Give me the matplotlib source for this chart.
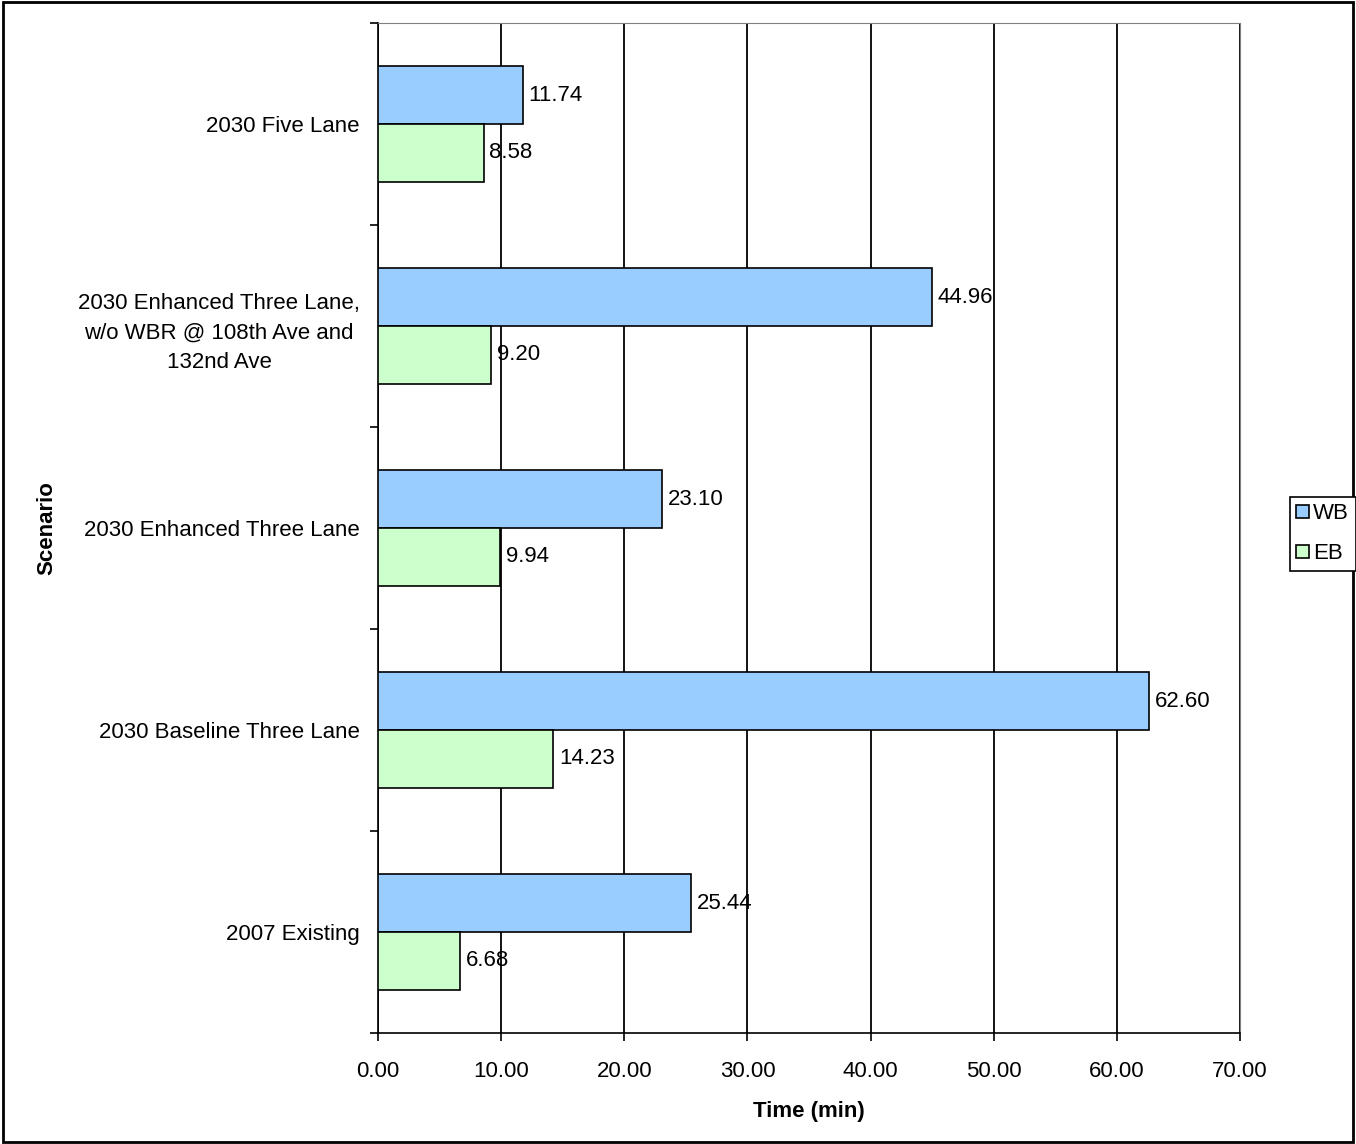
import numpy as np
import matplotlib.pyplot as plt

scenarios = ['2007 Existing', '2030 Baseline Three Lane', '2030 Enhanced Three Lane',
             '2030 Enhanced Three Lane,\nw/o WBR @ 108th Ave and\n132nd Ave', '2030 Five Lane']
wb = [25.44, 62.60, 23.10, 44.96, 11.74]
eb = [6.68, 14.23, 9.94, 9.20, 8.58]
xticks = [0, 10, 20, 30, 40, 50, 60, 70]

plt.rcParams['font.family'] = ['Liberation Sans', 'DejaVu Sans']
fs = 16

fig = plt.figure(figsize=(13.56, 11.44), dpi=100)
ax = fig.add_axes([378 / 1356, 111 / 1144, 862 / 1356, 1010 / 1144])

y = np.arange(len(scenarios))
h = 0.287
ax.barh(y + h / 2, wb, height=h, color='#99ccff', edgecolor='black', linewidth=1.2, label='WB', zorder=3)
ax.barh(y - h / 2, eb, height=h, color='#ccffcc', edgecolor='black', linewidth=1.2, label='EB', zorder=3)

for i in range(len(scenarios)):
    ax.text(wb[i] + 0.45, y[i] + h / 2, '%.2f' % wb[i], va='center', ha='left', fontsize=fs, zorder=4)
    ax.text(eb[i] + 0.45, y[i] - h / 2, '%.2f' % eb[i], va='center', ha='left', fontsize=fs, zorder=4)

ax.set_xlim(0, 70)
ax.set_ylim(-0.5, len(scenarios) - 0.5)
ax.set_xticks(xticks)
ax.set_xticklabels(['%.2f' % v for v in xticks], fontsize=fs)
ax.xaxis.grid(True, color='black', linewidth=1.3, zorder=0)

ax.set_yticks(np.arange(-0.5, len(scenarios), 1.0))
ax.set_yticklabels([])
ax.set_yticks(y, minor=True)
ax.set_yticklabels(scenarios, minor=True, fontsize=fs, ha='right', multialignment='center',
                   linespacing=1.55)
ax.tick_params(axis='y', which='minor', length=0, pad=13)
ax.tick_params(axis='y', which='major', length=6, width=1.2, direction='out')
ax.tick_params(axis='x', length=6, width=1.2, direction='out', pad=14)

ax.spines['left'].set_linewidth(1.2)
ax.spines['bottom'].set_linewidth(1.2)
ax.spines['top'].set_color('#808080')
ax.spines['right'].set_color('#808080')

ax.set_xlabel('Time (min)', fontsize=fs, fontweight='bold', labelpad=14)
ax.set_ylabel('Scenario', fontsize=fs, fontweight='bold', labelpad=0)
ax.yaxis.set_label_coords(-0.372, 0.5)

leg = fig.legend(loc='upper left', bbox_to_anchor=(1283 / 1356, 1 - 490 / 1144), fontsize=fs,
                 frameon=True, fancybox=False, edgecolor='black', framealpha=1,
                 handlelength=0.55, handleheight=0.55, handletextpad=0.2, borderpad=0.3,
                 borderaxespad=0.3, labelspacing=0.85)
leg.get_frame().set_linewidth(1.2)

fig.patches.append(plt.Rectangle((0.002, 0.002), 0.996, 0.996, transform=fig.transFigure,
                                 fill=False, edgecolor='black', linewidth=2))

fig.savefig('out.png', dpi=100)
